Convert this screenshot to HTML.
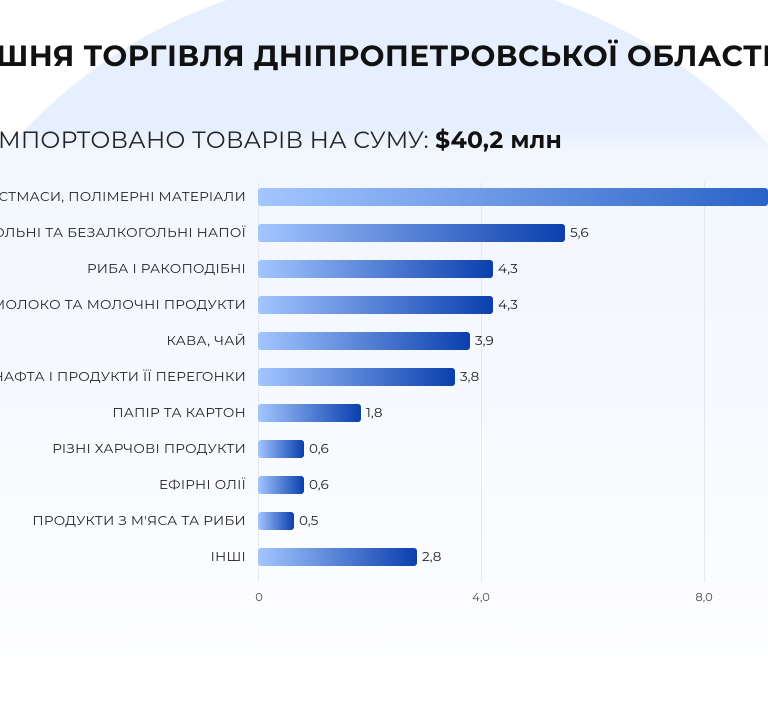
<!DOCTYPE html>
<html><head><meta charset="utf-8"><style>
html,body{margin:0;padding:0;width:768px;height:720px;overflow:hidden;}
body{position:relative;background:#fff;font-family:"Montserrat","Liberation Sans","DejaVu Sans",sans-serif;}
.wrap{position:absolute;left:0;top:0;width:768px;height:720px;overflow:hidden;background:radial-gradient(circle 503px at 390px 475px,#e5effd 99.7%,#fff 100%);}
.panel{position:absolute;left:0;top:128px;width:768px;height:592px;background:linear-gradient(rgba(242,247,254,0) 0,#f2f7fe 24px,#f6f9fe 45%,#fbfcff 75%,#fff 100%);}
.title{position:absolute;left:-4px;top:38px;white-space:nowrap;font-weight:bold;font-size:29.5px;color:#111;letter-spacing:0.4px;}
.sub{position:absolute;left:-2px;top:125px;white-space:nowrap;font-size:23.5px;color:#222;letter-spacing:0.2px;}
.sub b{color:#111;}
.lab{position:absolute;right:522px;font-size:13.5px;color:#222;white-space:nowrap;transform:translateY(-50%);letter-spacing:0.3px;}
.bar{position:absolute;left:258px;height:18px;border-radius:3px;background:linear-gradient(90deg,#a3c6ff,#0a3fae);transform:translateY(-50%);}
.val{position:absolute;font-size:13.5px;color:#222;transform:translateY(-50%);}
.grid{position:absolute;top:182px;height:400px;width:1px;background:#e3e8ef;}
.tick{position:absolute;top:590px;font-size:11.5px;color:#444;transform:translateX(-50%);}
</style></head><body><div class="wrap">
<div class="panel"></div>
<div class="title">ШНЯ ТОРГІВЛЯ ДНІПРОПЕТРОВСЬКОЇ ОБЛАСТІ</div>
<div class="sub">МПОРТОВАНО ТОВАРІВ НА СУМУ: <b>$40,2 млн</b></div>
<div class="grid" style="left:258px"></div>
<div class="grid" style="left:481px"></div>
<div class="grid" style="left:704px"></div>

<div class="lab" style="top:197px">СТМАСИ, ПОЛІМЕРНІ МАТЕРІАЛИ</div>
<div class="bar" style="top:197px;width:510px;background:linear-gradient(90deg,#a3c6ff,#2a62c8)"></div>

<div class="lab" style="top:233px">ОЛЬНІ ТА БЕЗАЛКОГОЛЬНІ НАПОЇ</div>
<div class="bar" style="top:233px;width:307px"></div><div class="val" style="top:233px;left:570px">5,6</div>

<div class="lab" style="top:269px">РИБА І РАКОПОДІБНІ</div>
<div class="bar" style="top:269px;width:235px"></div><div class="val" style="top:269px;left:498px">4,3</div>

<div class="lab" style="top:305px">МОЛОКО ТА МОЛОЧНІ ПРОДУКТИ</div>
<div class="bar" style="top:305px;width:235px"></div><div class="val" style="top:305px;left:498px">4,3</div>

<div class="lab" style="top:341px">КАВА, ЧАЙ</div>
<div class="bar" style="top:341px;width:212px"></div><div class="val" style="top:341px;left:475px">3,9</div>

<div class="lab" style="top:377px">НАФТА І ПРОДУКТИ ЇЇ ПЕРЕГОНКИ</div>
<div class="bar" style="top:377px;width:197px"></div><div class="val" style="top:377px;left:460px">3,8</div>

<div class="lab" style="top:413px">ПАПІР ТА КАРТОН</div>
<div class="bar" style="top:413px;width:103px"></div><div class="val" style="top:413px;left:366px">1,8</div>

<div class="lab" style="top:449px">РІЗНІ ХАРЧОВІ ПРОДУКТИ</div>
<div class="bar" style="top:449px;width:46px"></div><div class="val" style="top:449px;left:309px">0,6</div>

<div class="lab" style="top:485px">ЕФІРНІ ОЛІЇ</div>
<div class="bar" style="top:485px;width:46px"></div><div class="val" style="top:485px;left:309px">0,6</div>

<div class="lab" style="top:521px">ПРОДУКТИ З М'ЯСА ТА РИБИ</div>
<div class="bar" style="top:521px;width:36px"></div><div class="val" style="top:521px;left:299px">0,5</div>

<div class="lab" style="top:557px">ІНШІ</div>
<div class="bar" style="top:557px;width:159px"></div><div class="val" style="top:557px;left:422px">2,8</div>

<div class="tick" style="left:259px">0</div>
<div class="tick" style="left:481px">4,0</div>
<div class="tick" style="left:704px">8,0</div>
</div></body></html>
